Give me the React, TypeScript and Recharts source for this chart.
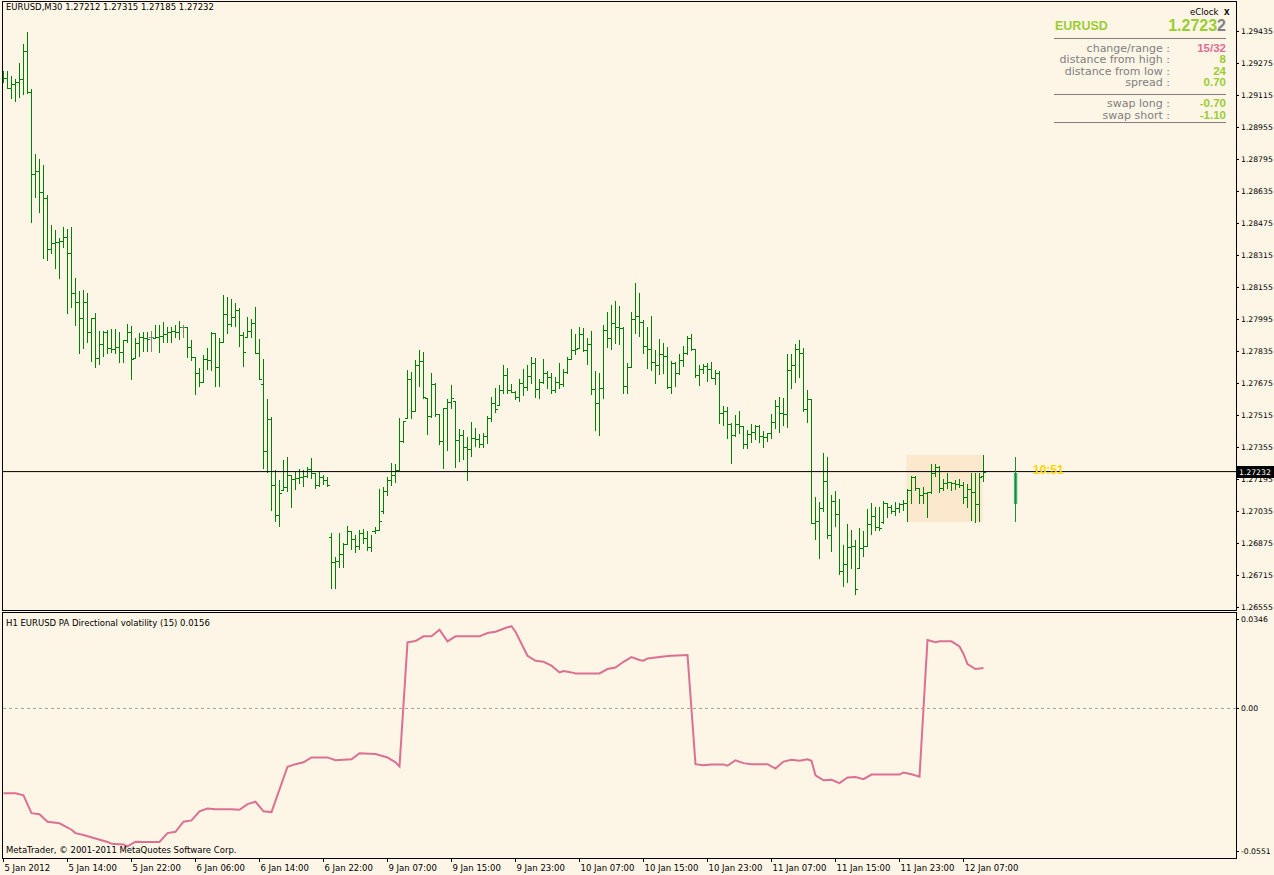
import {
  Bar,
  ComposedChart,
  Line,
  LineChart,
  ReferenceArea,
  ReferenceLine,
  XAxis,
  YAxis,
} from "recharts"

// EURUSD M30, 5 Jan 06:00 .. 12 Jan 09:30 (bar index 0..245)
const OPENS = [
  1.29185, 1.29200, 1.29150, 1.29170, 1.29180, 1.29195, 1.29335, 1.29130, 1.28720, 1.28735,
  1.28630, 1.28600, 1.28345, 1.28375, 1.28380, 1.28385, 1.28405, 1.28325, 1.28125, 1.28080,
  1.28000, 1.28080, 1.27930, 1.28000, 1.27800, 1.27870, 1.27930, 1.27850, 1.27845, 1.27855,
  1.27830, 1.27890, 1.27930, 1.27800, 1.27875, 1.27905, 1.27900, 1.27905, 1.27900, 1.27905,
  1.27910, 1.27920, 1.27930, 1.27935, 1.27930, 1.27955, 1.27955, 1.27855, 1.27805, 1.27725,
  1.27680, 1.27795, 1.27790, 1.27925, 1.27755, 1.27880, 1.28020, 1.27970, 1.28005, 1.28040,
  1.27915, 1.27905, 1.27935, 1.27975, 1.27825, 1.27670, 1.27335, 1.27495, 1.27165, 1.27015,
  1.27140, 1.27155, 1.27215, 1.27195, 1.27200, 1.27205, 1.27210, 1.27245, 1.27225, 1.27165,
  1.27205, 1.27190, 1.26905, 1.26780, 1.26785, 1.26820, 1.26870, 1.26935, 1.26895, 1.26860,
  1.26925, 1.26900, 1.26855, 1.26935, 1.26940, 1.27035, 1.27135, 1.27190, 1.27215, 1.27240,
  1.27385, 1.27500, 1.27695, 1.27535, 1.27765, 1.27785, 1.27600, 1.27510, 1.27670, 1.27520,
  1.27385, 1.27550, 1.27580, 1.27585, 1.27390, 1.27415, 1.27355, 1.27345, 1.27400, 1.27395,
  1.27370, 1.27410, 1.27500, 1.27575, 1.27565, 1.27640, 1.27715, 1.27640, 1.27630, 1.27605,
  1.27675, 1.27655, 1.27710, 1.27775, 1.27645, 1.27680, 1.27725, 1.27705, 1.27640, 1.27680,
  1.27670, 1.27730, 1.27795, 1.27840, 1.27850, 1.27920, 1.27840, 1.27870, 1.27645, 1.27575,
  1.27650, 1.27940, 1.27900, 1.27975, 1.27955, 1.27950, 1.27660, 1.27755, 1.27995, 1.28010,
  1.27980, 1.27860, 1.27845, 1.27780, 1.27765, 1.27820, 1.27810, 1.27655, 1.27775, 1.27725,
  1.27790, 1.27825, 1.27900, 1.27845, 1.27715, 1.27745, 1.27760, 1.27745, 1.27700, 1.27725,
  1.27525, 1.27535, 1.27470, 1.27415, 1.27470, 1.27460, 1.27370, 1.27420, 1.27430, 1.27460,
  1.27410, 1.27405, 1.27425, 1.27480, 1.27560, 1.27525, 1.27520, 1.27740, 1.27765, 1.27845,
  1.27825, 1.27545, 1.27595, 1.26975, 1.26985, 1.27050, 1.27185, 1.26915, 1.27085, 1.27020,
  1.26735, 1.26770, 1.26855, 1.26860, 1.26750, 1.26850, 1.26860, 1.26970, 1.27010, 1.26955,
  1.26980, 1.27075, 1.27055, 1.27035, 1.27050, 1.27070, 1.27075, 1.27140, 1.27205, 1.27150,
  1.27115, 1.27125, 1.27130, 1.27225, 1.27255, 1.27150, 1.27175, 1.27180, 1.27175, 1.27170,
  1.27165, 1.27105, 1.27145, 1.27130, 1.27070, 1.27212,
]

const HIGHS = [
  1.29235, 1.29235, 1.29210, 1.29195, 1.29275, 1.29370, 1.29430, 1.29145, 1.28820, 1.28795,
  1.28765, 1.28615, 1.28465, 1.28440, 1.28400, 1.28455, 1.28445, 1.28455, 1.28200, 1.28135,
  1.28140, 1.28125, 1.28000, 1.28025, 1.27935, 1.27935, 1.27940, 1.27945, 1.27945, 1.27930,
  1.27890, 1.27970, 1.27960, 1.27900, 1.27925, 1.27930, 1.27930, 1.27935, 1.27965, 1.27965,
  1.27980, 1.27955, 1.27955, 1.27965, 1.27985, 1.27965, 1.27955, 1.27890, 1.27805, 1.27750,
  1.27815, 1.27850, 1.27930, 1.27925, 1.27900, 1.28115, 1.28105, 1.28095, 1.28075, 1.28050,
  1.27930, 1.28005, 1.27995, 1.28055, 1.27895, 1.27795, 1.27595, 1.27505, 1.27240, 1.27190,
  1.27290, 1.27305, 1.27215, 1.27230, 1.27245, 1.27240, 1.27255, 1.27300, 1.27225, 1.27230,
  1.27215, 1.27205, 1.26925, 1.26805, 1.26925, 1.26875, 1.26960, 1.26935, 1.26915, 1.26940,
  1.26945, 1.26935, 1.26915, 1.26955, 1.27145, 1.27155, 1.27205, 1.27275, 1.27270, 1.27500,
  1.27485, 1.27740, 1.27730, 1.27790, 1.27840, 1.27830, 1.27600, 1.27725, 1.27675, 1.27520,
  1.27550, 1.27595, 1.27665, 1.27585, 1.27445, 1.27440, 1.27405, 1.27480, 1.27450, 1.27420,
  1.27425, 1.27510, 1.27605, 1.27650, 1.27665, 1.27765, 1.27750, 1.27670, 1.27635, 1.27695,
  1.27745, 1.27765, 1.27805, 1.27800, 1.27695, 1.27795, 1.27735, 1.27725, 1.27705, 1.27775,
  1.27745, 1.27805, 1.27945, 1.27920, 1.27955, 1.27950, 1.27900, 1.27935, 1.27735, 1.27725,
  1.27965, 1.28030, 1.28065, 1.28085, 1.28060, 1.27955, 1.27775, 1.28030, 1.28175, 1.28125,
  1.27990, 1.27955, 1.28010, 1.27840, 1.27895, 1.27875, 1.27855, 1.27785, 1.27780, 1.27820,
  1.27860, 1.27910, 1.27920, 1.27845, 1.27765, 1.27770, 1.27775, 1.27780, 1.27740, 1.27735,
  1.27560, 1.27555, 1.27475, 1.27515, 1.27535, 1.27460, 1.27440, 1.27470, 1.27465, 1.27465,
  1.27435, 1.27425, 1.27520, 1.27590, 1.27605, 1.27600, 1.27820, 1.27820, 1.27870, 1.27890,
  1.27850, 1.27640, 1.27595, 1.27105, 1.27080, 1.27325, 1.27305, 1.27115, 1.27135, 1.27095,
  1.26865, 1.26970, 1.26940, 1.26890, 1.26950, 1.26935, 1.27045, 1.27075, 1.27055, 1.27055,
  1.27085, 1.27075, 1.27065, 1.27080, 1.27075, 1.27090, 1.27145, 1.27210, 1.27210, 1.27150,
  1.27155, 1.27130, 1.27270, 1.27270, 1.27260, 1.27195, 1.27225, 1.27180, 1.27190, 1.27195,
  1.27180, 1.27170, 1.27225, 1.27225, 1.27225, 1.27315,
]

const LOWS = [
  1.29180, 1.29150, 1.29100, 1.29085, 1.29105, 1.29120, 1.29125, 1.28480, 1.28605, 1.28530,
  1.28300, 1.28290, 1.28325, 1.28250, 1.28200, 1.28355, 1.28025, 1.28055, 1.27965, 1.27825,
  1.27850, 1.27880, 1.27785, 1.27755, 1.27770, 1.27810, 1.27825, 1.27830, 1.27825, 1.27780,
  1.27780, 1.27880, 1.27695, 1.27800, 1.27810, 1.27835, 1.27835, 1.27835, 1.27900, 1.27830,
  1.27880, 1.27880, 1.27880, 1.27905, 1.27895, 1.27905, 1.27805, 1.27790, 1.27620, 1.27660,
  1.27680, 1.27745, 1.27740, 1.27660, 1.27660, 1.27880, 1.27925, 1.27960, 1.27960, 1.27860,
  1.27760, 1.27905, 1.27905, 1.27825, 1.27695, 1.27250, 1.27230, 1.27040, 1.26985, 1.26960,
  1.27140, 1.27135, 1.27055, 1.27145, 1.27175, 1.27160, 1.27205, 1.27200, 1.27150, 1.27160,
  1.27170, 1.27160, 1.26650, 1.26650, 1.26755, 1.26755, 1.26870, 1.26845, 1.26830, 1.26845,
  1.26875, 1.26840, 1.26835, 1.26925, 1.26940, 1.27025, 1.27115, 1.27165, 1.27180, 1.27240,
  1.27380, 1.27500, 1.27500, 1.27535, 1.27660, 1.27600, 1.27420, 1.27505, 1.27510, 1.27370,
  1.27250, 1.27340, 1.27550, 1.27255, 1.27285, 1.27295, 1.27190, 1.27310, 1.27360, 1.27355,
  1.27355, 1.27375, 1.27485, 1.27530, 1.27565, 1.27625, 1.27625, 1.27630, 1.27595, 1.27585,
  1.27615, 1.27640, 1.27675, 1.27605, 1.27600, 1.27675, 1.27650, 1.27625, 1.27630, 1.27650,
  1.27660, 1.27725, 1.27795, 1.27820, 1.27850, 1.27835, 1.27770, 1.27620, 1.27440, 1.27415,
  1.27600, 1.27855, 1.27845, 1.27875, 1.27870, 1.27625, 1.27625, 1.27755, 1.27925, 1.27910,
  1.27825, 1.27750, 1.27740, 1.27675, 1.27720, 1.27725, 1.27650, 1.27625, 1.27660, 1.27720,
  1.27760, 1.27820, 1.27840, 1.27705, 1.27665, 1.27725, 1.27685, 1.27700, 1.27670, 1.27475,
  1.27465, 1.27400, 1.27275, 1.27410, 1.27425, 1.27350, 1.27350, 1.27380, 1.27395, 1.27380,
  1.27355, 1.27385, 1.27400, 1.27450, 1.27430, 1.27465, 1.27455, 1.27650, 1.27680, 1.27705,
  1.27535, 1.27480, 1.26975, 1.26895, 1.26800, 1.27035, 1.26900, 1.26835, 1.26960, 1.26720,
  1.26660, 1.26680, 1.26750, 1.26620, 1.26750, 1.26810, 1.26860, 1.26920, 1.26940, 1.26940,
  1.26975, 1.27005, 1.27025, 1.27015, 1.27030, 1.27040, 1.26985, 1.27075, 1.27140, 1.27075,
  1.27075, 1.27005, 1.27125, 1.27210, 1.27130, 1.27140, 1.27150, 1.27140, 1.27145, 1.27155,
  1.27075, 1.27055, 1.26990, 1.26980, 1.26985, 1.27185,
]

const CLOSES = [
  1.29200, 1.29150, 1.29170, 1.29180, 1.29195, 1.29335, 1.29130, 1.28720, 1.28735, 1.28630,
  1.28600, 1.28345, 1.28375, 1.28380, 1.28385, 1.28405, 1.28325, 1.28125, 1.28080, 1.28000,
  1.28080, 1.27930, 1.28000, 1.27800, 1.27870, 1.27930, 1.27850, 1.27845, 1.27855, 1.27830,
  1.27890, 1.27930, 1.27795, 1.27875, 1.27905, 1.27900, 1.27895, 1.27905, 1.27905, 1.27910,
  1.27920, 1.27930, 1.27935, 1.27930, 1.27955, 1.27955, 1.27855, 1.27805, 1.27725, 1.27680,
  1.27795, 1.27790, 1.27925, 1.27755, 1.27880, 1.28020, 1.27970, 1.28005, 1.28040, 1.27915,
  1.27830, 1.27935, 1.27975, 1.27825, 1.27695, 1.27335, 1.27495, 1.27165, 1.27015, 1.27125,
  1.27155, 1.27215, 1.27195, 1.27200, 1.27205, 1.27210, 1.27245, 1.27225, 1.27165, 1.27205,
  1.27190, 1.27165, 1.26780, 1.26785, 1.26820, 1.26870, 1.26935, 1.26895, 1.26860, 1.26925,
  1.26900, 1.26855, 1.26935, 1.26940, 1.26985, 1.27135, 1.27190, 1.27215, 1.27240, 1.27385,
  1.27485, 1.27695, 1.27535, 1.27765, 1.27785, 1.27605, 1.27510, 1.27670, 1.27520, 1.27385,
  1.27550, 1.27580, 1.27600, 1.27390, 1.27415, 1.27355, 1.27345, 1.27400, 1.27395, 1.27370,
  1.27410, 1.27500, 1.27575, 1.27545, 1.27640, 1.27715, 1.27640, 1.27630, 1.27605, 1.27675,
  1.27655, 1.27710, 1.27775, 1.27645, 1.27680, 1.27725, 1.27705, 1.27640, 1.27680, 1.27670,
  1.27730, 1.27795, 1.27840, 1.27845, 1.27920, 1.27840, 1.27870, 1.27645, 1.27575, 1.27650,
  1.27940, 1.27900, 1.27975, 1.27955, 1.27950, 1.27660, 1.27755, 1.27995, 1.28010, 1.27980,
  1.27860, 1.27845, 1.27780, 1.27765, 1.27820, 1.27810, 1.27655, 1.27775, 1.27725, 1.27790,
  1.27825, 1.27900, 1.27845, 1.27715, 1.27745, 1.27760, 1.27745, 1.27700, 1.27725, 1.27525,
  1.27535, 1.27470, 1.27415, 1.27470, 1.27460, 1.27370, 1.27420, 1.27430, 1.27460, 1.27410,
  1.27405, 1.27425, 1.27480, 1.27560, 1.27525, 1.27520, 1.27740, 1.27765, 1.27845, 1.27825,
  1.27545, 1.27595, 1.26975, 1.26985, 1.27050, 1.27185, 1.26915, 1.27085, 1.27020, 1.26735,
  1.26770, 1.26855, 1.26860, 1.26645, 1.26850, 1.26860, 1.26970, 1.27010, 1.26955, 1.26950,
  1.27075, 1.27055, 1.27035, 1.27050, 1.27070, 1.27075, 1.27140, 1.27205, 1.27150, 1.27115,
  1.27125, 1.27130, 1.27225, 1.27255, 1.27150, 1.27175, 1.27180, 1.27175, 1.27170, 1.27165,
  1.27105, 1.27145, 1.27130, 1.27070, 1.27205, 1.27232,
]

const PRICE_TICKS = [
  1.29435, 1.29275, 1.29115, 1.28955, 1.28795, 1.28635, 1.28475, 1.28315, 1.28155, 1.27995,
  1.27835, 1.27675, 1.27515, 1.27355, 1.27195, 1.27035, 1.26875, 1.26715, 1.26555,
]

const DATE_TICKS = [0, 16, 32, 48, 64, 80, 96, 112, 128, 144, 160, 176, 192, 208, 224, 240]
const DATE_LABELS = [
  "5 Jan 2012", "5 Jan 14:00", "5 Jan 22:00", "6 Jan 06:00", "6 Jan 14:00", "6 Jan 22:00",
  "9 Jan 07:00", "9 Jan 15:00", "9 Jan 23:00", "10 Jan 07:00", "10 Jan 15:00", "10 Jan 23:00",
  "11 Jan 07:00", "11 Jan 15:00", "11 Jan 23:00", "12 Jan 07:00",
]

// PA Directional volatility (15), read at the bars where the line turns
const VOL_BARS = [
  0, 3, 5, 7, 9, 11, 14, 17, 18, 20, 23, 26, 27, 30, 31, 33, 35, 39, 41, 43,
  45, 47, 49, 51, 53, 57, 59, 61, 63, 65, 67, 71, 73, 75, 77, 81, 83, 87, 89, 93,
  96, 98, 99, 101, 103, 105, 107, 109, 111, 113, 119, 121, 123, 126, 127, 128, 131, 133, 135, 137,
  139, 140, 142, 143, 149, 151, 153, 155, 157, 159, 160, 161, 165, 167, 171, 173, 175, 177, 180, 181,
  183, 185, 187, 191, 193, 195, 197, 199, 201, 202, 203, 205, 207, 209, 211, 213, 215, 217, 224, 225,
  227, 229, 231, 233, 234, 237, 239, 240, 241, 243, 245,
]
const VOL_VALUES = [
  -0.0327, -0.0327, -0.0335, -0.0404, -0.0408, -0.0437, -0.0443, -0.0468, -0.0481, -0.0488,
  -0.0502, -0.0515, -0.0522, -0.0525, -0.0532, -0.0514, -0.0515, -0.0515, -0.0481, -0.0476,
  -0.0437, -0.0432, -0.0397, -0.0386, -0.0389, -0.0389, -0.0391, -0.0369, -0.0360, -0.0397,
  -0.0400, -0.0225, -0.0215, -0.0208, -0.0189, -0.0189, -0.0200, -0.0196, -0.0173, -0.0176,
  -0.0189, -0.0208, -0.0224, 0.0255, 0.0260, 0.0278, 0.0278, 0.0304, 0.0259, 0.0278,
  0.0278, 0.0291, 0.0296, 0.0313, 0.0317, 0.0296, 0.0203, 0.0184, 0.0180, 0.0165,
  0.0139, 0.0144, 0.0139, 0.0135, 0.0135, 0.0152, 0.0158, 0.0180, 0.0198, 0.0187,
  0.0184, 0.0193, 0.0200, 0.0203, 0.0206, -0.0215, -0.0219, -0.0216, -0.0216, -0.0221,
  -0.0200, -0.0211, -0.0215, -0.0215, -0.0232, -0.0205, -0.0198, -0.0202, -0.0196, -0.0202,
  -0.0258, -0.0277, -0.0275, -0.0288, -0.0266, -0.0265, -0.0273, -0.0255, -0.0255, -0.0247,
  -0.0254, -0.0263, 0.0264, 0.0255, 0.0259, 0.0259, 0.0239, 0.0210, 0.0171, 0.0152,
  0.0156,
]
const VOL_TICKS = [0.0346, 0, -0.0551]

// today's range box starts at 12 Jan 00:00
const TODAY_START = 226

// eClock's current-candle marker
const CLOCK_BAR = 253
const CLOCK_OPEN = 1.2707
const CLOCK_CLOSE = 1.27225
const CLOCK_HIGH = 1.27305
const CLOCK_LOW = 1.2698

const W = 1274
const H = 875
const BG = "#fdf5e6"
const SANS = "'DejaVu Sans', sans-serif"
const ARIAL = "'Liberation Sans', Arial, sans-serif"
const X_DOMAIN: [number, number] = [-0.375, 308.125]

const bars = OPENS.map((o, i) => ({
  i,
  open: o,
  high: HIGHS[i],
  low: LOWS[i],
  close: CLOSES[i],
}))
const volData = VOL_BARS.map((b, k) => ({ i: b, v: VOL_VALUES[k] }))

const todayHigh = Math.max(...HIGHS.slice(TODAY_START))
const todayLow = Math.min(...LOWS.slice(TODAY_START))
const lastIdx = bars.length - 1
const lastClose = CLOSES[lastIdx]

function OhlcShape(props: any) {
  const { x, y, width, height, payload } = props
  if (!payload || x == null || y == null) return null
  const top = Math.min(y, y + height)
  const bot = Math.max(y, y + height)
  const range = payload.high - payload.low || 1
  const yOf = (v: number) => top + ((payload.high - v) / range) * (bot - top)
  const cx = Math.floor(x + width / 2)
  const yt = Math.round(top)
  const yb = Math.round(bot)
  const color = payload.open === payload.close ? "#808080" : "#008000"
  return (
    <g fill={color}>
      <rect x={cx} y={yt} width={1} height={Math.max(1, yb - yt + 1)} />
      <rect x={cx - 2} y={Math.round(yOf(payload.open))} width={2} height={1} />
      <rect x={cx + 1} y={Math.round(yOf(payload.close))} width={2} height={1} />
    </g>
  )
}

function PriceTick({ x, y, payload }: any) {
  return (
    <g>
      <line x1={x} x2={x + 3} y1={Math.round(y) + 0.5} y2={Math.round(y) + 0.5} stroke="#000" />
      <text x={x + 5} y={y + 3} fontSize={7.7} fontFamily={SANS} fill="#000">
        {Number(payload.value).toFixed(5)}
      </text>
    </g>
  )
}

function VolTick({ x, y, payload }: any) {
  const v = Number(payload.value)
  return (
    <g>
      <line x1={x} x2={x + 3} y1={Math.round(y) + 0.5} y2={Math.round(y) + 0.5} stroke="#000" />
      <text x={x + 5} y={y + 3} fontSize={7.7} fontFamily={SANS} fill="#000">
        {v === 0 ? "0.00" : v.toFixed(4)}
      </text>
    </g>
  )
}

function DateTick({ x, y, payload }: any) {
  const label = DATE_LABELS[DATE_TICKS.indexOf(payload.value)]
  const px = Math.floor(x) + 0.5
  return (
    <g>
      <line x1={px} x2={px} y1={y} y2={y + 4} stroke="#000" />
      <text x={x + 1} y={y + 13} fontSize={8.5} fontFamily={SANS} fill="#000">
        {label}
      </text>
    </g>
  )
}

function PriceTag({ viewBox }: any) {
  if (!viewBox) return null
  const x = viewBox.x + viewBox.width + 1
  const y = Math.round(viewBox.y)
  return (
    <g>
      <rect x={x} y={y - 6} width={W - x} height={12} fill="#000" />
      <text x={x + 2} y={y + 3} fontSize={7.7} fontFamily={SANS} fill="#fff">
        {lastClose.toFixed(5)}
      </text>
    </g>
  )
}

const ECLOCK_ROWS = [
  { label: "change/range :", value: "15/32", color: "#db7093", y: 51.5 },
  { label: "distance from high :", value: "8", color: "#9acd32", y: 63 },
  { label: "distance from low :", value: "24", color: "#9acd32", y: 74.5 },
  { label: "spread :", value: "0.70", color: "#9acd32", y: 86 },
  { label: "swap long :", value: "-0.70", color: "#9acd32", y: 107 },
  { label: "swap short :", value: "-1.10", color: "#9acd32", y: 119 },
]

export default function App() {
  return (
    <div
      style={{
        position: "fixed",
        left: 0,
        top: 0,
        width: W,
        height: H,
        background: BG,
        overflow: "hidden",
      }}
    >
      <div style={{ position: "absolute", left: 0, top: 0 }}>
        <ComposedChart
          width={W}
          height={612}
          data={bars}
          margin={{ top: 2, right: 0, bottom: 2, left: 2 }}
        >
          <XAxis dataKey="i" type="number" domain={X_DOMAIN} allowDataOverflow hide />
          <YAxis
            orientation="right"
            width={38}
            domain={[1.2654, 1.2958]}
            allowDataOverflow
            ticks={PRICE_TICKS}
            interval={0}
            tick={<PriceTick />}
            tickSize={0}
            tickMargin={0}
            axisLine={false}
            tickLine={false}
          />
          <ReferenceArea
            x1={TODAY_START - 0.25}
            x2={lastIdx - 0.25}
            y1={todayLow}
            y2={todayHigh}
            fill="#fce8cd"
            fillOpacity={1}
            stroke="none"
          />
          <Bar
            dataKey={(d: any) => [d.low, d.high]}
            barSize={1}
            shape={OhlcShape}
            isAnimationActive={false}
          />
          <ReferenceLine y={lastClose} stroke="#000" label={(p: any) => <PriceTag {...p} />} />
          <ReferenceLine
            segment={[
              { x: CLOCK_BAR, y: CLOCK_LOW },
              { x: CLOCK_BAR, y: CLOCK_HIGH },
            ]}
            stroke="#1f8a3a"
          />
          <ReferenceArea
            x1={CLOCK_BAR - 0.4}
            x2={CLOCK_BAR + 0.45}
            y1={CLOCK_OPEN}
            y2={CLOCK_CLOSE}
            fill="#3cb371"
            fillOpacity={1}
            stroke="none"
          />
        </ComposedChart>
      </div>

      <div style={{ position: "absolute", left: 0, top: 612 }}>
        <LineChart
          width={W}
          height={263}
          data={volData}
          margin={{ top: 0, right: 0, bottom: 0, left: 2 }}
        >
          <XAxis
            dataKey="i"
            type="number"
            domain={X_DOMAIN}
            allowDataOverflow
            ticks={DATE_TICKS}
            interval={0}
            tick={<DateTick />}
            height={17}
            tickSize={0}
            tickMargin={0}
            axisLine={false}
            tickLine={false}
          />
          <YAxis
            orientation="right"
            width={38}
            domain={[-0.0577, 0.0372]}
            allowDataOverflow
            ticks={VOL_TICKS}
            interval={0}
            tick={<VolTick />}
            tickSize={0}
            tickMargin={0}
            axisLine={false}
            tickLine={false}
          />
          <ReferenceLine y={0} stroke="#a0a0a0" strokeDasharray="3 3" />
          <Line
            dataKey="v"
            type="linear"
            stroke="#db7093"
            strokeWidth={2}
            dot={false}
            isAnimationActive={false}
          />
        </LineChart>
      </div>

      <svg
        width={W}
        height={H}
        style={{ position: "absolute", left: 0, top: 0, pointerEvents: "none" }}
      >
        <rect x={2.5} y={1.5} width={1234} height={609} fill="none" stroke="#000" />
        <rect x={2.5} y={612.5} width={1234} height={246} fill="none" stroke="#000" />

        <text x={6} y={9.5} fontSize={8.5} fontFamily={SANS} fill="#000">
          EURUSD,M30  1.27212 1.27315 1.27185 1.27232
        </text>
        <text x={6} y={626} fontSize={8.5} fontFamily={SANS} fill="#000">
          H1 EURUSD PA Directional volatility (15) 0.0156
        </text>
        <text x={6} y={853} fontSize={8.5} fontFamily={SANS} fill="#000">
          MetaTrader, © 2001-2011 MetaQuotes Software Corp.
        </text>

        <text x={1190} y={15} fontSize={8.5} fontFamily={SANS} fill="#000">eClock</text>
        <text x={1224} y={15} fontSize={10} fontWeight="bold" fontFamily={ARIAL} fill="#000">x</text>
        <text x={1055} y={30} fontSize={12.5} fontWeight="bold" fontFamily={ARIAL} fill="#9acd32">
          EURUSD
        </text>
        <text x={1226} y={31} fontSize={16} fontWeight="bold" fontFamily={ARIAL} textAnchor="end">
          <tspan fill="#9acd32">1.2723</tspan>
          <tspan fill="#808080">2</tspan>
        </text>
        <line x1={1054} x2={1226} y1={38.5} y2={38.5} stroke="#808080" />
        <line x1={1054} x2={1226} y1={94.5} y2={94.5} stroke="#808080" />
        <line x1={1054} x2={1226} y1={122.5} y2={122.5} stroke="#808080" />
        {ECLOCK_ROWS.map(r => (
          <g key={r.label}>
            <text x={1170} y={r.y} fontSize={11} fontFamily={SANS} fill="#808080" textAnchor="end">
              {r.label}
            </text>
            <text x={1226} y={r.y} fontSize={11.5} fontWeight="bold" fontFamily={ARIAL} fill={r.color} textAnchor="end">
              {r.value}
            </text>
          </g>
        ))}

        <text x={1033} y={474} fontSize={12} fontWeight="bold" fontFamily={ARIAL} fill="#ffd700">
          10:51
        </text>
      </svg>
    </div>
  )
}
